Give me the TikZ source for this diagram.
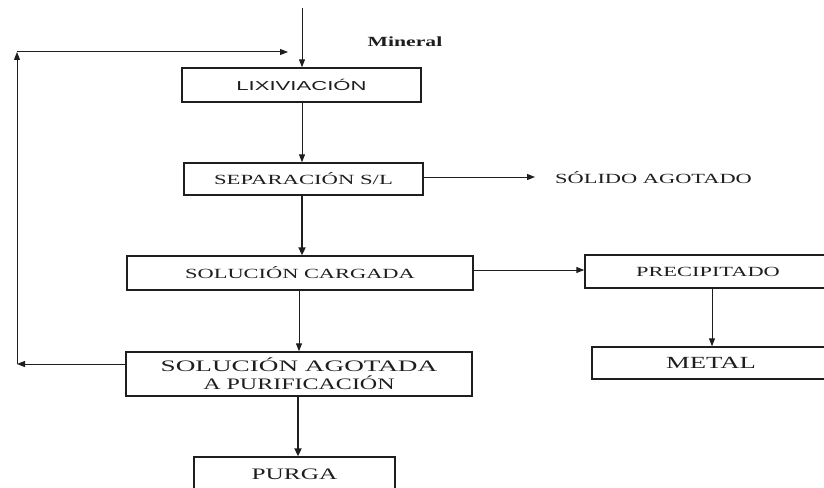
\documentclass[tikz,border=0pt]{standalone}
\usepackage{fontspec}
\usepackage{graphicx}
\setmainfont{Liberation Serif}
\newfontfamily\arialf{Liberation Sans}
\usetikzlibrary{arrows.meta}
\newcommand\stx[3]{\scalebox{#1}[1]{\fontsize{#2}{#2}\selectfont #3}}
\definecolor{ink}{HTML}{1E1E1E}
\tikzset{
  procbox/.style={draw=ink, line width=1.4pt, rectangle, inner sep=0pt, text=ink},
  thinarr/.style={draw=ink, line width=1pt, -{Triangle[length=8pt,width=6pt]}},
  thickarr/.style={draw=ink, line width=2pt, -{Triangle[length=8pt,width=7pt]}},
}
\begin{document}
\begin{tikzpicture}[x=1pt,y=-1pt]
\useasboundingbox (0,0) rectangle (824,487);
\clip (0,0) rectangle (824,487);
% boxes
\node[procbox, minimum width=239pt, minimum height=34pt] (lix) at (301.5,85)
  {\arialf\stx{1.7}{13}{LIXIVIACIÓN}};
\node[procbox, minimum width=239pt, minimum height=32pt] (sep) at (303.5,179)
  {\stx{1.62}{14}{SEPARACIÓN S/L}};
\node[procbox, minimum width=346pt, minimum height=34pt] (sc) at (300,273)
  {\stx{1.6}{14}{SOLUCIÓN CARGADA}};
\node[procbox, minimum width=246pt, minimum height=33pt] (pre) at (708,271.5)
  {\stx{1.6}{14}{PRECIPITADO}};
\node[procbox, minimum width=238pt, minimum height=32pt] (met) at (711,363)
  {\stx{1.57}{17}{METAL}};
\node[procbox, minimum width=346pt, minimum height=44pt, align=center] (sa) at (299,374)
  {\stx{1.7}{16}{SOLUCIÓN AGOTADA}\\[3pt]\stx{1.5}{16}{A PURIFICACIÓN}};
\node[procbox, minimum width=201pt, minimum height=35pt] (pur) at (294.5,474.5)
  {\stx{1.58}{16}{PURGA}};
% labels
\node[text=ink, inner sep=0pt] (minl) at (405,42) {\stx{1.55}{14}{\textbf{Mineral}}};
\node[text=ink, inner sep=0pt, anchor=west] (sol) at (555,178) {\stx{1.6}{14}{SÓLIDO AGOTADO}};
% coordinates
\coordinate (mtop) at (302,8);
\coordinate (solend) at (535,177);
\coordinate (fbl) at (17,364);
\coordinate (fbt) at (17,52);
\coordinate (fbr) at (288,52);
% connectors
\draw[thinarr] (mtop) -- (mtop |- lix.north);
\draw[thinarr] (lix.south -| 302,0) -- (sep.north -| 302,0);
\draw[thinarr] (sep.east |- solend) -- (solend);
\draw[thickarr] (sep.south -| 302,0) -- (sc.north -| 302,0);
\draw[thinarr] (sc.east |- 0,270) -- (pre.west |- 0,270);
\draw[thinarr] (sc.south -| 299,0) -- (sa.north -| 299,0);
\draw[thinarr] (pre.south -| 712,0) -- (met.north -| 712,0);
\draw[thickarr] (sa.south -| 298,0) -- (pur.north -| 298,0);
\draw[thinarr] (sa.west |- fbl) -- (fbl);
\draw[thinarr] (fbl) -- (fbt);
\draw[thinarr] (fbt) -- (fbr);
\end{tikzpicture}
\end{document}
